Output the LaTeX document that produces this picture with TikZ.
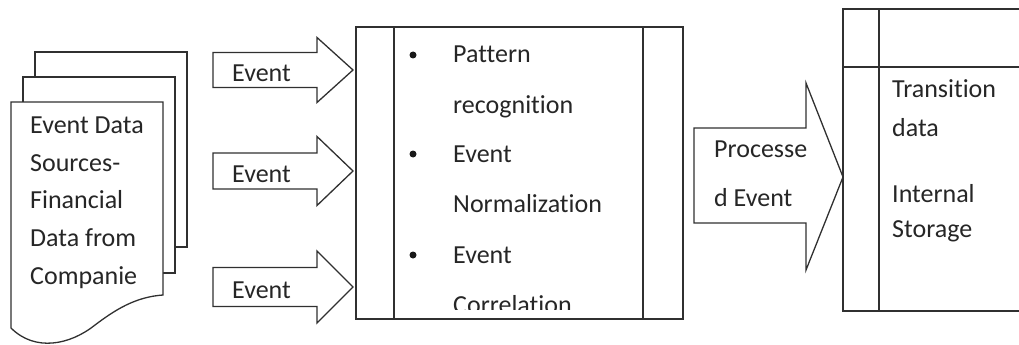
\documentclass[tikz,border=0pt]{standalone}
\usepackage{fontspec}
\setmainfont{Carlito}[Ligatures=NoCommon]
\usetikzlibrary{positioning}
\definecolor{lineink}{HTML}{303030}
\tikzset{
  outline/.style={draw=lineink,line width=1.3pt,line join=miter},
  lbl/.style={anchor=base west,inner sep=0pt,font=\fontsize{26}{30}\selectfont,text=black!85},
  dot/.style={circle,fill=black!90,inner sep=0pt,minimum size=7pt},
}

\begin{document}
\begin{tikzpicture}[x=1pt,y=-1pt]
  \useasboundingbox (0,0) rectangle (1019,345);
  % stacked source pages
  \draw[outline] (35,77) |- (187,52) |- (175,247);
  \draw[outline] (23,102) |- (175,77) |- (163,273);
  \draw[outline,fill=white] (11,328) |- (163,102) -- (163,295)
    .. controls (135,297) and (115,310) .. (95,325)
    .. controls (70,345) and (35,352) .. (11,328) -- cycle;
  \node[lbl] (src1) at (30,133) {Event Data};
  \node[lbl] (src2) at (30,171) {Sources-};
  \node[lbl] (src3) at (30,208) {Financial};
  \node[lbl] (src4) at (30,246) {Data from};
  \node[lbl] (src5) at (30,284) {Companie};

  % incoming event arrows
  \foreach \c/\s/\h [count=\i] in {70/17.5/32.5,171/18/34.5,287/19.5/36}{
    \draw[outline] (213,\c-\s) -- (317,\c-\s) -- (317,\c-\h) -- (353,\c)
      -- (317,\c+\h) -- (317,\c+\s) -- (213,\c+\s) -- cycle;
    \node[lbl] (ev\i) at (232,\c+11.5) {Event};
  }

  % processing box
  \node[outline,minimum width=327pt,minimum height=292pt,inner sep=0pt] (proc) at (519.5,173) {};
  \draw[outline] (394,27) -- (394,319) (643,27) -- (643,319);
  \node[dot] (b1) at (413,55) {};
  \node[dot] (b2) at (413,154) {};
  \node[dot] (b3) at (413,255) {};
  \node[lbl] (p1) at (453,63) {Pattern};
  \node[lbl] (p2) at (453,113) {recognition};
  \node[lbl] (p3) at (453,162) {Event};
  \node[lbl] (p4) at (453,212) {Normalization};
  \node[lbl] (p5) at (453,263) {Event};
  \begin{scope}
    \clip (394,27) rectangle (643,309);
    \node[lbl] (p6) at (453,313) {Correlation};
  \end{scope}

  % processed event arrow
  \draw[outline] (694,128) -- (806,128) -- (806,83) -- (843,177)
    -- (806,270) -- (806,223) -- (694,223) -- cycle;
  \node[lbl] (pe1) at (714,157) {Processe};
  \node[lbl] (pe2) at (714,206) {d Event};

  % storage table
  \draw[outline] (1030,9) -| (843,311) -- (1030,311);
  \draw[outline] (843,67) -- (1030,67) (879,9) -- (879,311);
  \node[lbl] (st1) at (892,97) {Transition};
  \node[lbl] (st2) at (892,136) {data};
  \node[lbl] (st3) at (892,202) {Internal};
  \node[lbl] (st4) at (892,237) {Storage};
\end{tikzpicture}
\end{document}
